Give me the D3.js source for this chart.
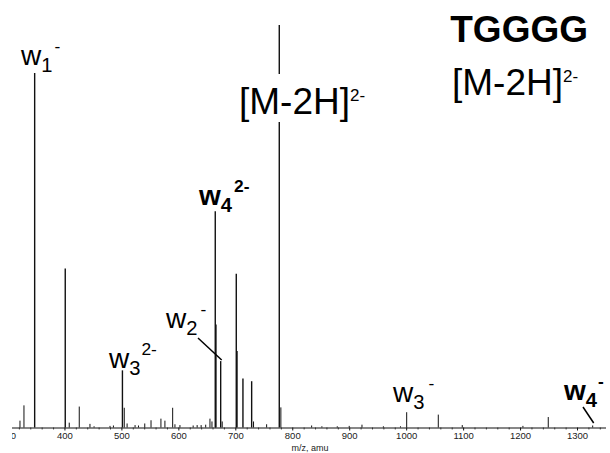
<!DOCTYPE html>
<html><head><meta charset="utf-8">
<script src="https://cdn.jsdelivr.net/npm/d3@7"></script>
<style>body{margin:0;background:#fff}svg{display:block}text{font-family:"Liberation Sans",Arial,sans-serif}</style>
</head><body>
<script>
// peak positions (m/z) and relative intensities (%)
const peakMz = [321.9,328.9,347.7,401.4,408.4,426,444.8,452,480,486,501.8,505,510,524,530,541,552,569.4,576.4,590,594,602.8,626,633,640,648,655.5,659,664.8,666,674.3,677,701.7,703,713.4,728.7,732,755,777.2,780,834,852,879,900,922.4,960,990,1000.9,1056.4,1098.5,1205,1249.5,1327.5];
const peakInt = [1.7,5.5,88.1,39.5,1.2,5.2,0.9,0.3,0.4,0.5,14.2,4.9,1.0,0.6,0.5,1.0,1.8,2.2,1.7,4.9,0.8,0.6,0.5,0.6,0.6,0.7,2.2,1.5,53.7,25.6,16.5,1.5,38.2,19,12.2,11.5,1.5,0.8,100,5,0.5,0.3,0.3,0.4,0.7,0.3,0.3,3.8,3.2,0.6,0.4,2.6,0.5];
const tickValues = [300,400,500,600,700,800,900,1000,1100,1200,1300];
const xTitle = "m/z, amu";

const W=610,H=453;
const svg=d3.select("body").append("svg").attr("width",W).attr("height",H);
const x=d3.scaleLinear().domain([300,1350]).range([7.5,605.5]);
const y=d3.scaleLinear().domain([0,100]).range([427.5,25]);

svg.append("clipPath").attr("id","clip").append("rect").attr("x",12).attr("y",0).attr("width",W).attr("height",H);

const g=svg.append("g").attr("clip-path","url(#clip)");

// minor ticks
const minor=d3.range(300,1360,20).filter(v=>v%100!==0);
const axMinor=d3.axisBottom(x).tickValues(minor).tickSize(2).tickFormat("").tickSizeOuter(0);
g.append("g").attr("transform",`translate(0,${y(0)})`).call(axMinor).call(a=>a.select(".domain").remove())
 .selectAll("line").attr("stroke","#222").attr("stroke-width",0.8);

const ax=d3.axisBottom(x).tickValues(tickValues).tickSize(3).tickSizeOuter(0).tickPadding(2).tickFormat(d3.format("d"));
const axg=g.append("g").attr("transform",`translate(0,${y(0)})`).call(ax);
axg.select(".domain").attr("stroke","#111").attr("stroke-width",1.2);
axg.selectAll("line").attr("stroke","#111");
axg.selectAll("text").attr("font-size",9.5).attr("fill","#222").attr("font-family","Liberation Sans,Arial,sans-serif");

svg.append("text").attr("x",310).attr("y",451).attr("text-anchor","middle").attr("font-size",9).attr("fill","#222").text(xTitle);

// peaks
const peaks=peakMz.map((m,i)=>({m,v:peakInt[i]}));
g.append("g").selectAll("line").data(peaks).join("line")
 .attr("x1",d=>x(d.m)).attr("x2",d=>x(d.m))
 .attr("y1",y(0)).attr("y2",d=>y(d.v))
 .attr("stroke","#111")
 .attr("stroke-width",d=>d.v>8?1.4:1);

// label helper
function lbl(px,py,main,sub,sup,opt){
  const t=svg.append("text").attr("x",px).attr("y",py).attr("font-size",opt.size).attr("font-weight",opt.bold?"bold":"normal").attr("fill","#000");
  t.append("tspan").text(main);
  if(sub) t.append("tspan").attr("font-size",opt.size*0.72).attr("dy",opt.size*0.25).text(sub);
  if(sup) t.append("tspan").attr("font-size",opt.size*0.62).attr("dx",opt.supdx||1).attr("dy",-(opt.size*0.25+opt.size*0.45)).text(sup);
  return t;
}
// [M-2H] label on the main peak, with white gap
const mPk=x(777.2);
svg.append("rect").attr("x",mPk-3).attr("y",74).attr("width",6).attr("height",48).attr("fill","#fff");
const t1=svg.append("text").attr("x",239).attr("y",114).attr("font-size",37);
t1.append("tspan").text("[M-2H]");
t1.append("tspan").attr("font-size",17).attr("dy",-13).text("2-");

// title
svg.append("text").attr("x",588).attr("y",42).attr("text-anchor","end").attr("font-size",37).attr("font-weight","bold").text("TGGGG");
const t2=svg.append("text").attr("x",452).attr("y",95).attr("font-size",37);
t2.append("tspan").text("[M-2H]");
t2.append("tspan").attr("font-size",17).attr("dy",-13).text("2-");

// fragment labels
lbl(21,65,"w","1","-",{size:28,supdx:2});
lbl(199,205,"w","4","2-",{size:28,bold:true,supdx:2});
lbl(166,328,"w","2","-",{size:28,supdx:3});
lbl(109,368,"w","3","2-",{size:28,supdx:1});
lbl(393,402,"w","3","-",{size:28,supdx:4});
lbl(564,400,"w","4","-",{size:28,bold:true,supdx:1});

// connector lines
svg.append("line").attr("x1",198).attr("y1",338).attr("x2",x(674.3)+1).attr("y2",360).attr("stroke","#000").attr("stroke-width",1.5);
svg.append("line").attr("x1",583).attr("y1",407).attr("x2",x(1327.5)+1).attr("y2",423).attr("stroke","#000").attr("stroke-width",1.5);
</script>
</body></html>
